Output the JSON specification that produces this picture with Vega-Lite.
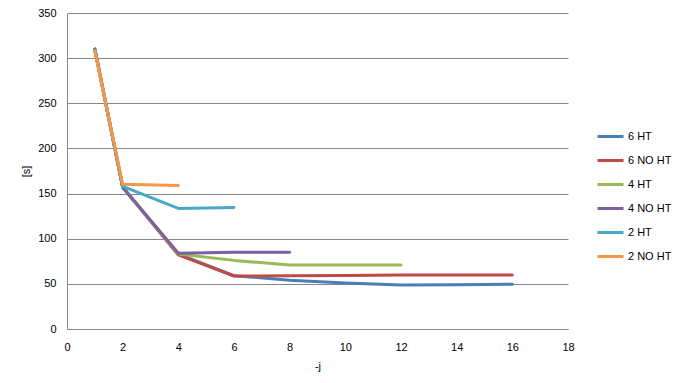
{
  "$schema": "https://vega.github.io/schema/vega-lite/v6.json",
  "width": 501,
  "height": 316,
  "autosize": {"type": "none"},
  "padding": {"left": 67, "top": 13, "right": 108, "bottom": 54},
  "background": "white",
  "config": {
    "view": {"stroke": null},
    "font": "Liberation Sans",
    "axis": {"labelFont": "Liberation Sans", "titleFont": "Liberation Sans", "labelFontSize": 11, "titleFontSize": 11, "titleFontWeight": "normal", "labelColor": "#000", "titleColor": "#000", "domainColor": "#868686", "gridColor": "#868686", "gridOpacity": 1, "ticks": false, "tickSize": 0}
  },
  "data": {
    "values": [
      {"x": 1, "y": 310, "s": "6 HT"}, {"x": 2, "y": 157, "s": "6 HT"}, {"x": 4, "y": 83, "s": "6 HT"}, {"x": 6, "y": 59, "s": "6 HT"}, {"x": 8, "y": 54, "s": "6 HT"}, {"x": 10, "y": 51, "s": "6 HT"}, {"x": 12, "y": 48.7, "s": "6 HT"}, {"x": 14, "y": 49, "s": "6 HT"}, {"x": 16, "y": 49.5, "s": "6 HT"},
      {"x": 1, "y": 310, "s": "6 NO HT"}, {"x": 2, "y": 157, "s": "6 NO HT"}, {"x": 4, "y": 82, "s": "6 NO HT"}, {"x": 6, "y": 58.7, "s": "6 NO HT"}, {"x": 8, "y": 59, "s": "6 NO HT"}, {"x": 10, "y": 59.3, "s": "6 NO HT"}, {"x": 12, "y": 59.8, "s": "6 NO HT"}, {"x": 14, "y": 59.8, "s": "6 NO HT"}, {"x": 16, "y": 59.8, "s": "6 NO HT"},
      {"x": 1, "y": 310, "s": "4 HT"}, {"x": 2, "y": 157, "s": "4 HT"}, {"x": 4, "y": 83, "s": "4 HT"}, {"x": 6, "y": 76, "s": "4 HT"}, {"x": 8, "y": 71, "s": "4 HT"}, {"x": 10, "y": 71, "s": "4 HT"}, {"x": 12, "y": 71, "s": "4 HT"},
      {"x": 1, "y": 310, "s": "4 NO HT"}, {"x": 2, "y": 157, "s": "4 NO HT"}, {"x": 4, "y": 84, "s": "4 NO HT"}, {"x": 6, "y": 85, "s": "4 NO HT"}, {"x": 8, "y": 85, "s": "4 NO HT"},
      {"x": 1, "y": 309, "s": "2 HT"}, {"x": 2, "y": 158, "s": "2 HT"}, {"x": 4, "y": 133.6, "s": "2 HT"}, {"x": 6, "y": 134.7, "s": "2 HT"},
      {"x": 1, "y": 308, "s": "2 NO HT"}, {"x": 2, "y": 160.2, "s": "2 NO HT"}, {"x": 4, "y": 159, "s": "2 NO HT"}
    ]
  },
  "mark": {"type": "line", "strokeWidth": 3, "strokeCap": "round", "strokeJoin": "round"},
  "encoding": {
    "x": {"field": "x", "type": "quantitative", "title": "-j", "scale": {"domain": [0, 18], "nice": false}, "axis": {"values": [0, 2, 4, 6, 8, 10, 12, 14, 16, 18], "grid": false, "labelPadding": 12, "titlePadding": 8, "labelFlush": false}},
    "y": {"field": "y", "type": "quantitative", "title": "[s]", "scale": {"domain": [0, 350], "nice": false}, "axis": {"values": [0, 50, 100, 150, 200, 250, 300, 350], "grid": true, "labelPadding": 11, "titlePadding": 6, "labelFlush": false}},
    "color": {"field": "s", "type": "nominal", "sort": ["6 HT", "6 NO HT", "4 HT", "4 NO HT", "2 HT", "2 NO HT"],
      "scale": {"domain": ["6 HT", "6 NO HT", "4 HT", "4 NO HT", "2 HT", "2 NO HT"], "range": ["#4A7EBB", "#BE4B48", "#98B954", "#7D60A0", "#46AAC5", "#F79646"]},
      "legend": {"title": null, "orient": "none", "legendX": 529, "legendY": 109, "symbolType": "stroke", "symbolSize": 676, "symbolStrokeWidth": 3, "labelFontSize": 11, "labelFont": "Liberation Sans", "labelColor": "#000", "rowPadding": 3, "labelOffset": 3}
    },
    "order": {"field": "x", "type": "quantitative"}
  }
}
